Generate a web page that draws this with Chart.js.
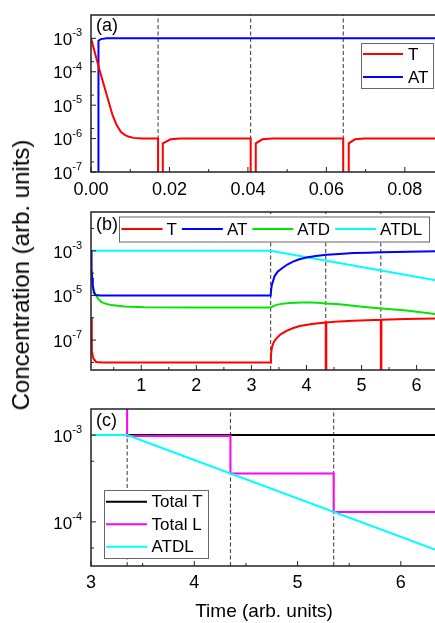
<!DOCTYPE html>
<html>
<head>
<meta charset="utf-8">
<script src="https://cdn.jsdelivr.net/npm/chart.js@4.4.1/dist/chart.umd.min.js"></script>
<style>
html, body { margin: 0; padding: 0; background: #fff; overflow: hidden; }
#wrap { position: relative; width: 435px; height: 623px; overflow: hidden; }
canvas { position: absolute; left: 0; }
#ytitle {
    position: absolute; left: 21px; top: 275px;
    transform: translate(-50%, -50%) rotate(-90deg);
    font: 24px 'Liberation Sans', Arial, sans-serif;
    white-space: nowrap; color: #000;
}
</style>
</head>
<body>
<div id="wrap">
    <canvas id="panelA" width="440" height="198" style="top:0px"></canvas>
    <canvas id="panelB" width="440" height="200" style="top:198px"></canvas>
    <canvas id="panelC" width="440" height="225" style="top:398px"></canvas>
    <div id="ytitle">Concentration (arb. units)</div>
</div>
<script>
// ---- panel (a): early times ----
const aXTicks = [0, 0.02, 0.04, 0.06, 0.08];
const aXMinor = [0.01, 0.03, 0.05, 0.07];
const aYExp = [-7, -6, -5, -4, -3];
const aYMinor = [2e-7, 2e-6, 2e-5, 2e-4];
const aPulses = [0.0171, 0.0407, 0.0643];
const aTimeT = [0, 0.0023, 0.0055, 0.0065, 0.0076, 0.0086, 0.0095, 0.0108, 0.013, 0.0171, 0.0171, 0.0183, 0.0183, 0.0203, 0.0228,
    0.0407, 0.0407, 0.0420, 0.0420, 0.0437, 0.0462, 0.0643, 0.0643, 0.0657, 0.0657, 0.0673, 0.0698, 0.0882];
const aT = [1e-3, 1e-4, 5e-6, 2.6e-6, 1.6e-6, 1.3e-6, 1.15e-6, 1.05e-6, 1e-6, 1e-6, 1e-9, 1e-9, 7.2e-7, 9.5e-7, 1e-6,
    1e-6, 1e-9, 1e-9, 7.2e-7, 9.5e-7, 1e-6, 1e-6, 1e-9, 1e-9, 7.2e-7, 9.5e-7, 1e-6, 1e-6];
const aTimeAT = [0, 0.0019, 0.0019, 0.0025, 0.004, 0.0882];
const aAT = [1e-9, 1e-9, 8.5e-4, 9.5e-4, 1e-3, 1e-3];

// ---- panel (b): whole run ----
const bXTicks = [1, 2, 3, 4, 5, 6];
const bXMinor = [0.5, 1.5, 2.5, 3.5, 4.5, 5.5];
const bYExp = [-7, -5, -3];
const bYMinor = [1e-8, 1e-6, 1e-4, 1e-2];
const bPulses = [3.35, 4.35, 5.35];
const bTimeT = [0.0875, 0.102, 0.13, 0.18, 0.3, 3.35, 3.355, 3.365, 3.38, 3.41, 3.455, 3.53, 3.636, 3.75, 3.878, 4.1, 4.35,
    4.35, 4.36, 4.36, 4.6, 4.85, 5.1, 5.35, 5.35, 5.36, 5.36, 5.8, 6.37];
const bT = [1e-6, 3.3e-8, 1.5e-8, 1.05e-8, 1e-8, 1e-8, 2e-8, 3.5e-8, 5.5e-8, 8.5e-8, 1.2e-7, 1.8e-7, 2.6e-7, 3.4e-7, 4.3e-7, 5.3e-7, 6.2e-7,
    1e-9, 1e-9, 6.2e-7, 6.9e-7, 7.4e-7, 7.8e-7, 8.1e-7, 1e-9, 1e-9, 8.1e-7, 8.8e-7, 9.4e-7];
const bTimeAT = [0.0875, 0.095, 0.1, 0.11, 0.12, 0.14, 0.17, 0.25, 3.35, 3.36, 3.375, 3.4, 3.424, 3.48, 3.575, 3.66, 3.756, 3.87,
    4.0, 4.17, 4.364, 4.6, 4.847, 5.1, 5.364, 5.85, 6.37];
const bAT = [1e-3, 3.5e-4, 1.5e-4, 6e-5, 3e-5, 1.3e-5, 1.05e-5, 1e-5, 1e-5, 2e-5, 3.2e-5, 5e-5, 7.6e-5, 1.2e-4, 1.8e-4, 2.5e-4, 3.3e-4, 4.2e-4,
    5e-4, 5.8e-4, 6.6e-4, 7.3e-4, 7.9e-4, 8.3e-4, 8.7e-4, 9.2e-4, 9.7e-4];
const bTimeATD = [0.0875, 0.1, 0.12, 0.15, 0.18, 0.22, 0.27, 0.35, 0.45, 0.7, 1.06, 2.0, 3.35, 3.4, 3.455, 3.55, 3.696, 3.9,
    4.06, 4.2, 4.35, 4.6, 4.847, 5.1, 5.364, 5.818, 6.37];
const bATD = [6e-5, 4e-5, 2.3e-5, 1.4e-5, 1e-5, 7e-6, 5.2e-6, 4.3e-6, 3.7e-6, 3.2e-6, 3.0e-6, 2.9e-6, 2.9e-6, 3.3e-6, 3.8e-6, 4.2e-6, 4.6e-6, 4.85e-6,
    4.9e-6, 4.7e-6, 4.4e-6, 4.0e-6, 3.5e-6, 3.0e-6, 2.6e-6, 2.1e-6, 1.45e-6];
const bTimeATDL = [0.0875, 3.35, 6.37];
const bATDL = [1e-3, 1e-3, 4.7e-5];

// ---- panel (c): totals ----
const cXTicks = [3, 4, 5, 6];
const cXMinor = [3.5, 4.5, 5.5];
const cYExp = [-4, -3];
const cYMinor = [5e-5, 5e-4];
const cPulses = [3.35, 4.35, 5.35];
const cTimeTotalT = [3, 6.35];
const cTotalT = [1e-3, 1e-3];
const cTimeTotalL = [3, 3.35, 3.35, 4.35, 4.35, 5.35, 5.35, 6.35];
const cTotalL = [3e-3, 3e-3, 9.75e-4, 9.75e-4, 3.6e-4, 3.6e-4, 1.3e-4, 1.3e-4];
const cTimeATDL = [3, 3.35, 6.35];
const cATDL = [1e-3, 1e-3, 4.7e-5];

const FONT = "'Liberation Sans', Arial, sans-serif";
Chart.defaults.font.family = FONT;
Chart.defaults.color = '#000';

function pts(xs, ys) {
    return xs.map((x, i) => ({x: x, y: ys[i]}));
}

function curve(label, color, xs, ys, order) {
    return {label: label, data: pts(xs, ys), borderColor: color, borderWidth: 2,
        pointRadius: 0, fill: false, tension: 0, order: order};
}

function pulseLines(times, yMin, yMax) {
    return times.map(t => ({
        data: [{x: t, y: yMin}, {x: t, y: yMax}],
        borderColor: '#333', borderWidth: 1, borderDash: [4, 2.5], pointRadius: 0, order: 9
    }));
}

// frame, inward ticks, 10^n labels, panel tag and boxed legend
const framePlugin = {
    id: 'frame',
    afterDatasetsDraw(chart, args, opts) {
        const ctx = chart.ctx, a = chart.chartArea;
        const xs = chart.scales.x, ys = chart.scales.y;
        ctx.save();
        ctx.strokeStyle = '#222';
        ctx.lineWidth = 1;
        ctx.beginPath();
        opts.xMajor.forEach(v => { const p = xs.getPixelForValue(v); ctx.moveTo(p, a.bottom); ctx.lineTo(p, a.bottom - 5); });
        opts.xMinor.forEach(v => { const p = xs.getPixelForValue(v); ctx.moveTo(p, a.bottom); ctx.lineTo(p, a.bottom - 3); });
        opts.yExp.forEach(e => { const p = ys.getPixelForValue(Math.pow(10, e)); ctx.moveTo(a.left, p); ctx.lineTo(a.left + 5, p); });
        opts.yMinor.forEach(v => { const p = ys.getPixelForValue(v); ctx.moveTo(a.left, p); ctx.lineTo(a.left + 3, p); });
        ctx.stroke();
        ctx.lineWidth = 1.5;
        ctx.strokeRect(a.left, a.top, a.right - a.left, a.bottom - a.top);

        ctx.fillStyle = '#000';
        ctx.textAlign = 'right';
        ctx.textBaseline = 'middle';
        opts.yExp.forEach(e => {
            const p = ys.getPixelForValue(Math.pow(10, e));
            const sup = String(e);
            ctx.font = '11px ' + FONT;
            const sw = ctx.measureText(sup).width;
            ctx.fillText(sup, a.left - 9, p - 5);
            ctx.font = '17px ' + FONT;
            ctx.fillText('10', a.left - 9 - sw, p + 2);
        });

        ctx.textAlign = 'left';
        ctx.font = '18px ' + FONT;
        ctx.fillText(opts.tag, a.left + 5, a.top + opts.tagY);

        const lg = opts.legend;
        const items = chart.data.datasets.filter(d => d.label);
        ctx.fillStyle = '#fff';
        ctx.fillRect(lg.x, lg.y, lg.w, lg.h);
        ctx.strokeStyle = '#666';
        ctx.lineWidth = 1;
        ctx.strokeRect(lg.x + 0.5, lg.y + 0.5, lg.w, lg.h);
        ctx.font = '17px ' + FONT;
        let cx = lg.x + lg.inset, cy = lg.y + lg.first;
        items.forEach(d => {
            ctx.strokeStyle = d.borderColor;
            ctx.lineWidth = 2;
            ctx.beginPath();
            ctx.moveTo(cx, cy);
            ctx.lineTo(cx + lg.line, cy);
            ctx.stroke();
            ctx.fillStyle = '#000';
            ctx.fillText(d.label, cx + lg.line + lg.gap, cy + 1);
            if (lg.row) cx += lg.line + lg.gap + ctx.measureText(d.label).width + lg.step;
            else cy += lg.step;
        });
        ctx.restore();
    }
};

function makePanel(id, cfg) {
    new Chart(document.getElementById(id), {
        type: 'line',
        data: {datasets: cfg.datasets},
        options: {
            responsive: false,
            animation: false,
            events: [],
            layout: {padding: {top: cfg.padTop, right: 3, left: 0, bottom: 0}},
            plugins: {legend: {display: false}, tooltip: {enabled: false}, frame: cfg.frame},
            scales: {
                x: {
                    type: 'linear', min: cfg.xMin, max: cfg.xMax,
                    grid: {display: false, drawTicks: false},
                    border: {display: false},
                    ticks: {font: {size: 18}, color: '#000', padding: cfg.tickPad, maxRotation: 0,
                        autoSkip: false, callback: cfg.fmt},
                    afterBuildTicks: s => { s.ticks = cfg.xTicks.map(v => ({value: v})); },
                    afterFit: s => { s.height = cfg.xH; },
                    title: cfg.xTitle || {display: false}
                },
                y: {
                    type: 'logarithmic', min: cfg.yMin, max: cfg.yMax,
                    grid: {display: false, drawTicks: false},
                    border: {display: false},
                    ticks: {display: false},
                    afterFit: s => { s.width = 91; }
                }
            }
        },
        plugins: [framePlugin]
    });
}

makePanel('panelA', {
    padTop: 15, xH: 26, tickPad: 7,
    xMin: 0, xMax: 0.0882, yMin: 1e-7, yMax: 5e-3,
    xTicks: aXTicks, fmt: v => v.toFixed(2),
    datasets: [
        curve('T', '#ff0000', aTimeT, aT, 0),
        curve('AT', '#0000ff', aTimeAT, aAT, 1)
    ].concat(pulseLines(aPulses, 1e-7, 5e-3)),
    frame: {xMajor: aXTicks, xMinor: aXMinor, yExp: aYExp, yMinor: aYMinor, tag: '(a)', tagY: 11,
        legend: {x: 361, y: 43, w: 72, h: 45, inset: 2, first: 11, line: 40, gap: 5, step: 23, row: false}}
});

makePanel('panelB', {
    padTop: 14, xH: 28, tickPad: 5,
    xMin: 0.0875, xMax: 6.37, yMin: 4.57e-9, yMax: 0.055,
    xTicks: bXTicks, fmt: v => String(v),
    datasets: [
        curve('T', '#ff0000', bTimeT, bT, 1),
        curve('AT', '#0000ff', bTimeAT, bAT, 0),
        curve('ATD', '#00e600', bTimeATD, bATD, 2),
        curve('ATDL', '#00ffff', bTimeATDL, bATDL, 3)
    ].concat(pulseLines(bPulses, 4.57e-9, 0.055)),
    frame: {xMajor: bXTicks, xMinor: bXMinor, yExp: bYExp, yMinor: bYMinor, tag: '(b)', tagY: 13,
        legend: {x: 119, y: 18.5, w: 310, h: 25, inset: 2.5, first: 12.5, line: 41, gap: 4, step: 5, row: true}}
});

makePanel('panelC', {
    padTop: 11, xH: 57, tickPad: 6,
    xMin: 3, xMax: 6.35, yMin: 3.1e-5, yMax: 2e-3,
    xTicks: cXTicks, fmt: v => String(v),
    xTitle: {display: true, text: 'Time (arb. units)', color: '#000', font: {size: 19}, padding: {top: 0, bottom: 0}},
    datasets: [
        curve('Total T', '#000000', cTimeTotalT, cTotalT, 2),
        curve('Total L', '#ff00ff', cTimeTotalL, cTotalL, 1),
        curve('ATDL', '#00ffff', cTimeATDL, cATDL, 0)
    ].concat(pulseLines(cPulses, 3.1e-5, 2e-3)),
    frame: {xMajor: cXTicks, xMinor: cXMinor, yExp: cYExp, yMinor: cYMinor, tag: '(c)', tagY: 12,
        legend: {x: 104, y: 92, w: 104, h: 68, inset: 2, first: 11.7, line: 41, gap: 4.5, step: 22.5, row: false}}
});
</script>
</body>
</html>
